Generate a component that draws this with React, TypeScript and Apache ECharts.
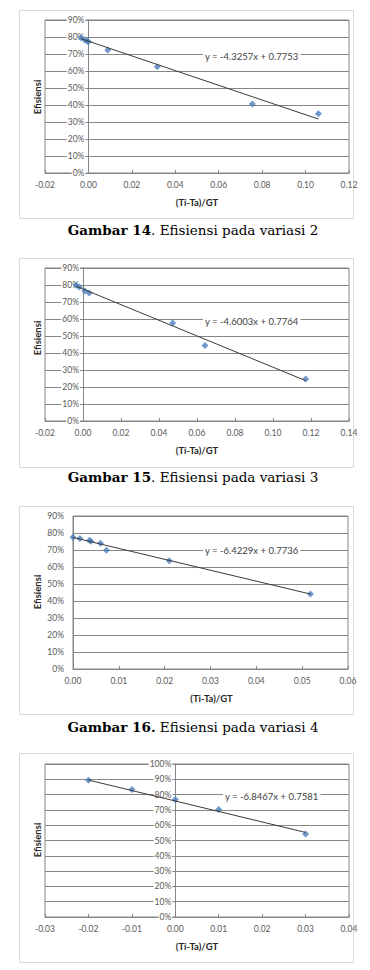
import React, { useEffect, useRef } from "react";
import * as echarts from "echarts";

// Data (x = (Ti-Ta)/GT, y = efisiensi)
const x14 = [-0.0034, -0.0016, -0.0005, 0.0, 0.0089, 0.0317, 0.0755, 0.1059];
const y14 = [0.796, 0.782, 0.775, 0.772, 0.724, 0.625, 0.406, 0.349];
const x15 = [-0.0037, -0.0019, 0.001, 0.0033, 0.0472, 0.0642, 0.1172];
const y15 = [0.798, 0.788, 0.765, 0.753, 0.577, 0.444, 0.247];
const x16 = [0.0, 0.0015, 0.0036, 0.0039, 0.006, 0.0073, 0.021, 0.0518];
const y16 = [0.775, 0.767, 0.757, 0.751, 0.739, 0.698, 0.637, 0.441];
const x17 = [-0.02, -0.01, 0.0, 0.01, 0.03];
const y17 = [0.893, 0.834, 0.768, 0.702, 0.543];

// Trendline equations as printed on the charts
const slopes = [-4.3257, -4.6003, -6.4229, -6.8467];
const intercepts = [0.7753, 0.7764, 0.7736, 0.7581];
const equations = [
  "y = -4.3257x + 0.7753",
  "y = -4.6003x + 0.7764",
  "y = -6.4229x + 0.7736",
  "y = -6.8467x + 0.7581",
];

// Axis ranges
const xMins = [-0.02, -0.02, 0.0, -0.03];
const xMaxs = [0.12, 0.14, 0.06, 0.04];
const xSteps = [0.02, 0.02, 0.01, 0.01];
const yMaxs = [0.9, 0.9, 0.9, 1.0];

const captionBold = ["Gambar 14", "Gambar 15", "Gambar 16.", "Gambar 17"];
const captionRest = [
  ". Efisiensi pada variasi 2",
  ". Efisiensi pada variasi 3",
  " Efisiensi pada variasi 4",
  ". Efisiensi pada variasi 5",
];

const xsAll = [x14, x15, x16, x17];
const ysAll = [y14, y15, y16, y17];

// layout
const grids = [
  { left: 45, top: 20, width: 304, height: 153 },
  { left: 45, top: 268, width: 304, height: 153 },
  { left: 73, top: 516, width: 275, height: 153 },
  { left: 45, top: 764, width: 304, height: 153 },
];
const frames = [
  { y: 10, h: 208 },
  { y: 258, h: 209 },
  { y: 506, h: 208 },
  { y: 753, h: 209 },
];
const eqPos = [
  { x: 203, y: 56 },
  { x: 203, y: 321 },
  { x: 203, y: 550 },
  { x: 223, y: 796 },
];
const captionY = [230, 477, 727, 975];
const yTitleY = [97, 338, 592, 840];

const FONT = "Lato, 'Open Sans', sans-serif";

export default function App() {
  const ref = useRef<HTMLDivElement>(null);
  useEffect(() => {
    if (!ref.current) return;
    const chart = echarts.init(ref.current, undefined, { renderer: "svg" });

    const xAxis: any[] = [];
    const yAxis: any[] = [];
    const series: any[] = [];
    const graphic: any[] = [];

    for (let i = 0; i < 4; i++) {
      const crossesZero = xMins[i] < 0;
      // place the value axis where x = 0 (Excel-style crossing)
      const zeroOffset = crossesZero
        ? -(grids[i].width * (0 - xMins[i])) / (xMaxs[i] - xMins[i])
        : 0;
      xAxis.push({
        type: "value",
        gridIndex: i,
        min: xMins[i],
        max: xMaxs[i],
        interval: xSteps[i],
        axisLine: { show: true, onZero: false, lineStyle: { color: "#868686", width: 1 } },
        axisTick: { show: true, inside: true, length: 3, lineStyle: { color: "#868686" } },
        axisLabel: {
          color: "#595959",
          fontFamily: FONT,
          fontSize: 8.5,
          margin: 7,
          formatter: (v: number) => v.toFixed(2),
        },
        splitLine: { show: false },
      });
      yAxis.push({
        type: "value",
        gridIndex: i,
        position: "left",
        offset: zeroOffset,
        min: 0,
        max: yMaxs[i],
        interval: 0.1,
        axisLine: {
          show: true,
          onZero: false,
          lineStyle: { color: "#868686", width: 1 },
        },
        axisTick: { show: false },
        axisLabel: {
          color: "#595959",
          fontFamily: FONT,
          fontSize: 8.5,
          margin: crossesZero ? 3 : 8,
          backgroundColor: crossesZero ? "#ffffff" : "transparent",
          padding: [0, 1],
          formatter: (v: number) => Math.round(v * 100) + "%",
        },
        splitLine: { show: true, lineStyle: { color: "#868686", width: 1 } },
      });

      const xs = xsAll[i];
      const ys = ysAll[i];
      series.push({
        type: "scatter",
        xAxisIndex: i,
        yAxisIndex: i,
        symbol: "diamond",
        symbolSize: 7,
        itemStyle: { color: "#4A7EBB" },
        data: xs.map((x, k) => [x, ys[k]]),
        z: 2,
      });
      const x0 = Math.min(...xs);
      const x1 = Math.max(...xs);
      series.push({
        type: "line",
        xAxisIndex: i,
        yAxisIndex: i,
        symbol: "none",
        lineStyle: { color: "#3a3a3a", width: 1 },
        data: [
          [x0, slopes[i] * x0 + intercepts[i]],
          [x1, slopes[i] * x1 + intercepts[i]],
        ],
        z: 3,
      });

      graphic.push({
        type: "rect",
        shape: { x: 19.5, y: frames[i].y + 0.5, width: 334, height: frames[i].h },
        style: { fill: "none", stroke: "#d9d9d9", lineWidth: 1 },
        z: 0,
      });
      graphic.push({
        type: "text",
        x: eqPos[i].x,
        y: eqPos[i].y,
        z: 10,
        style: {
          text: equations[i],
          font: `9.5px ${FONT}`,
          fill: "#404040",
          backgroundColor: "#ffffff",
          padding: [1, 2],
          verticalAlign: "middle",
          align: "left",
        },
      });
      graphic.push({
        type: "text",
        x: 37,
        y: yTitleY[i],
        rotation: Math.PI / 2,
        z: 10,
        style: {
          text: "Efisiensi",
          font: `bold 9.5px ${FONT}`,
          fill: "#262626",
          align: "center",
          verticalAlign: "middle",
        },
      });
      graphic.push({
        type: "text",
        x: grids[i].left + grids[i].width / 2 + (i === 2 ? 1 : 0),
        y: grids[i].top + grids[i].height + 29,
        z: 10,
        style: {
          text: "(Ti-Ta)/GT",
          font: `bold 9.5px ${FONT}`,
          fill: "#262626",
          align: "center",
          verticalAlign: "middle",
        },
      });
      graphic.push({
        type: "text",
        x: 193,
        y: captionY[i],
        z: 10,
        style: {
          text: `{b|${captionBold[i]}}{r|${captionRest[i]}}`,
          align: "center",
          verticalAlign: "middle",
          rich: {
            b: { fontFamily: "'DejaVu Serif', serif", fontWeight: "bold", fontSize: 13.5, color: "#000" },
            r: { fontFamily: "'DejaVu Serif', serif", fontSize: 13.5, color: "#000" },
          },
        },
      });
    }

    chart.setOption({
      animation: false,
      backgroundColor: "#ffffff",
      grid: grids.map((g) => ({
        ...g,
        show: true,
        borderColor: "#868686",
        borderWidth: 1,
        backgroundColor: "transparent",
        containLabel: false,
      })),
      xAxis,
      yAxis,
      series,
      graphic,
    });
    return () => chart.dispose();
  }, []);
  return (
    <div
      ref={ref}
      style={{ position: "absolute", left: 0, top: 0, width: 370, height: 970 }}
    />
  );
}
